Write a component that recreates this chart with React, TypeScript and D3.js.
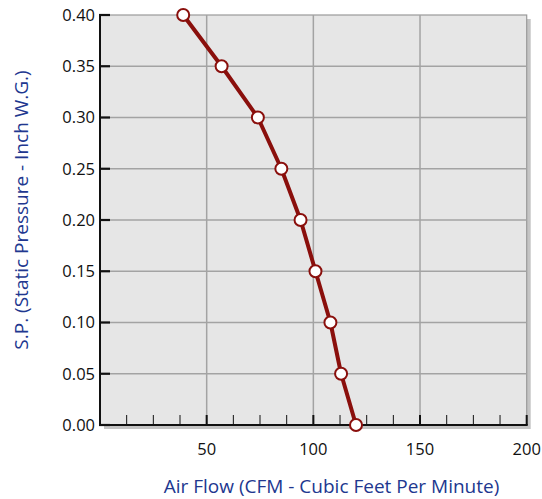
import React, { useLayoutEffect, useRef } from 'react';
import * as d3 from 'd3';

const airFlow = [39, 57, 74, 85, 94, 101, 108, 113, 120];
const staticPressure = [0.4, 0.35, 0.3, 0.25, 0.2, 0.15, 0.1, 0.05, 0.0];
const xTickValues = [50, 100, 150, 200];
const xMinorTicks = d3.range(0, 200.1, 12.5);
const yTickValues = [0, 0.05, 0.1, 0.15, 0.2, 0.25, 0.3, 0.35, 0.4];

const xTitle = 'Air Flow (CFM - Cubic Feet Per Minute)';
const yTitle = 'S.P. (Static Pressure - Inch W.G.)';

const width = 542;
const height = 499;
const margin = { top: 15, left: 100, right: 15.3, bottom: 74 };
const font = '"Open Sans", sans-serif';
const blue = '#21378f';
const red = '#8a0f0c';

const drawChart = (container: SVGSVGElement) => {
  const svg = d3.select(container);
  svg.selectAll('*').remove();

  const chartWidth = width - margin.left - margin.right;
  const chartHeight = height - margin.top - margin.bottom;

  const xScale = d3.scaleLinear().domain([0, 200]).range([0, chartWidth]);
  const yScale = d3.scaleLinear().domain([0, 0.4]).range([chartHeight, 0]);

  const g = svg
    .append('g')
    .attr('transform', `translate(${margin.left},${margin.top})`);

  // drop shadow
  g.append('rect')
    .attr('x', 4)
    .attr('y', 4)
    .attr('width', chartWidth)
    .attr('height', chartHeight)
    .attr('fill', '#c4c4c4');

  g.append('rect')
    .attr('width', chartWidth)
    .attr('height', chartHeight)
    .attr('fill', '#e6e6e6')
    .attr('stroke', '#9a9a9a')
    .attr('stroke-width', 1.2);

  // grid
  g.append('g')
    .selectAll('line')
    .data(yTickValues.slice(1, -1))
    .join('line')
    .attr('x1', 0)
    .attr('x2', chartWidth)
    .attr('y1', (d) => yScale(d))
    .attr('y2', (d) => yScale(d))
    .attr('stroke', '#a3a3a3')
    .attr('stroke-width', 1.5);
  g.append('g')
    .selectAll('line')
    .data(xTickValues.slice(0, -1))
    .join('line')
    .attr('x1', (d) => xScale(d))
    .attr('x2', (d) => xScale(d))
    .attr('y1', 0)
    .attr('y2', chartHeight)
    .attr('stroke', '#a3a3a3')
    .attr('stroke-width', 1.5);

  // x axis
  const xAxis = g.append('g').attr('transform', `translate(0,${chartHeight})`);
  xAxis
    .selectAll('line.minor')
    .data(xMinorTicks)
    .join('line')
    .classed('minor', true)
    .attr('x1', (d) => xScale(d))
    .attr('x2', (d) => xScale(d))
    .attr('y1', 0)
    .attr('y2', -10)
    .attr('stroke', '#111')
    .attr('stroke-width', (d) => (d % 50 === 0 ? 2 : 1));
  xAxis
    .append('line')
    .attr('x1', -1)
    .attr('x2', chartWidth + 1)
    .attr('stroke', '#111')
    .attr('stroke-width', 2);
  xAxis
    .selectAll('text')
    .data(xTickValues)
    .join('text')
    .attr('x', (d) => xScale(d))
    .attr('y', 30)
    .attr('text-anchor', 'middle')
    .attr('font-family', font)
    .attr('font-size', 16.5)
    .attr('fill', '#111')
    .text((d) => d);

  // y axis
  const yAxis = g.append('g');
  yAxis
    .append('line')
    .attr('y1', -1)
    .attr('y2', chartHeight + 1)
    .attr('stroke', '#111')
    .attr('stroke-width', 2);
  yAxis
    .selectAll('line.tick')
    .data(yTickValues)
    .join('line')
    .classed('tick', true)
    .attr('x1', -1)
    .attr('x2', 10)
    .attr('y1', (d) => yScale(d))
    .attr('y2', (d) => yScale(d))
    .attr('stroke', '#111')
    .attr('stroke-width', 2.2);
  yAxis
    .selectAll('text')
    .data(yTickValues)
    .join('text')
    .attr('x', -5)
    .attr('y', (d) => yScale(d))
    .attr('dy', '0.35em')
    .attr('text-anchor', 'end')
    .attr('font-family', font)
    .attr('font-size', 16.5)
    .attr('fill', '#111')
    .text((d) => d3.format('.2f')(d));

  // curve
  const points = airFlow.map((x, i) => [x, staticPressure[i]] as [number, number]);
  g.append('path')
    .datum(points)
    .attr('fill', 'none')
    .attr('stroke', red)
    .attr('stroke-width', 4)
    .attr('stroke-linejoin', 'round')
    .attr(
      'd',
      d3
        .line<[number, number]>()
        .x((d) => xScale(d[0]))
        .y((d) => yScale(d[1])),
    );
  g.append('g')
    .selectAll('circle')
    .data(points)
    .join('circle')
    .attr('cx', (d) => xScale(d[0]))
    .attr('cy', (d) => yScale(d[1]))
    .attr('r', 6)
    .attr('fill', '#fff')
    .attr('stroke', red)
    .attr('stroke-width', 2);

  // titles
  svg
    .append('text')
    .attr('x', 331.5)
    .attr('y', 493)
    .attr('text-anchor', 'middle')
    .attr('font-family', font)
    .attr('font-size', 19)
    .attr('fill', blue)
    .text(xTitle);
  svg
    .append('text')
    .attr('transform', `translate(28,210) rotate(-90)`)
    .attr('text-anchor', 'middle')
    .attr('font-family', font)
    .attr('font-size', 19)
    .attr('fill', blue)
    .text(yTitle);
};

const App: React.FC = () => {
  const svgRef = useRef<SVGSVGElement>(null);

  useLayoutEffect(() => {
    if (svgRef.current) drawChart(svgRef.current);
  }, []);

  return (
    <svg
      ref={svgRef}
      width={width}
      height={height}
      style={{ position: 'absolute', left: 0, top: 0, background: '#fff' }}
    />
  );
};

export default App;
